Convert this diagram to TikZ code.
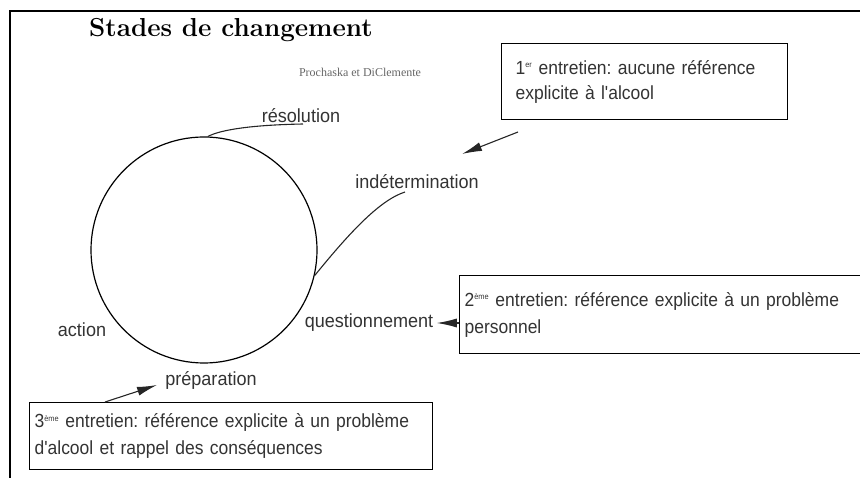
\documentclass[tikz,border=0pt]{standalone}
\usepackage{fontspec}
\setsansfont{Liberation Sans}[FakeStretch=0.95]
\newfontfamily\authorfont{Liberation Serif}
\newfontfamily\notefont{Liberation Sans}[FakeStretch=0.92]
\usetikzlibrary{arrows.meta}
\tikzset{>={Latex[length=20pt,width=9pt]}}
\tikzset{
  stage/.style={font=\sffamily\fontsize{19}{27}\selectfont, text=black!80},
  remark/.style={draw, line width=1.2pt, text=black!80, align=left, anchor=north west,
    font=\notefont\fontsize{19}{27}\selectfont\frenchspacing,
    inner xsep=5pt, inner ysep=0pt},
  leader/.style={line width=1.1pt, black!85},
}
\newcommand{\rang}[1]{\textsuperscript{\fontsize{8}{8}\selectfont #1}}

\begin{document}
\begin{tikzpicture}[x=1pt,y=-1pt]
  % page and frame
  \clip (0,0) rectangle (860,478);
  \draw[line width=1.2pt] (10,478) -- (10,11) -- (860,11);

  % title and source
  \node (title) at (231,30) {\bfseries\fontsize{26}{30}\selectfont Stades de changement};
  \node[font=\authorfont\fontsize{12}{14}\selectfont, text=black!60] (author) at (360,72) {Prochaska et DiClemente};

  % the cycle
  \node[circle, draw, line width=1.2pt, minimum size=226pt, inner sep=0pt] (cycle) at (204,250) {};

  % stage labels
  \node[stage] (res) at (301,116) {résolution};
  \node[stage] (indet) at (417,182) {indétermination};
  \node[stage] (quest) at (369,323) {questionnement};
  \node[stage] (action) at (82,330) {action};
  \node[stage] (prep) at (211,380) {préparation};

  % leader lines to the cycle
  \coordinate (resfoot) at (303,124);
  \coordinate (indfoot) at (405,192);
  \draw[leader] (cycle.88) .. controls (220,130) and (250,125) .. (resfoot);
  \draw[leader] (cycle.-13) .. controls (350,232) and (380,200) .. (indfoot);

  % the interviews
  \node[remark, inner xsep=14pt, text width=258pt, minimum height=76pt,
    font=\notefont\fontsize{19}{25}\selectfont\frenchspacing] (note1) at (501,43)
    {1\rang{er} entretien: aucune référence\\explicite à l'alcool};
  \node[remark, text width=440pt, minimum height=78pt] (note2) at (459,275)
    {2\rang{ème} entretien: référence explicite à un problème\\personnel};
  \node[remark, text width=393pt, minimum height=67pt] (note3) at (29,402)
    {3\rang{ème} entretien: référence explicite à un problème\\d'alcool et rappel des conséquences};

  % arrows
  \coordinate (tail1) at (518,132);
  \coordinate (tip1) at (462,154);
  \coordinate (tail3) at (105,402);
  \coordinate (tip3) at (157,385);
  \draw[->, leader] (tail1) -- (tip1);
  \draw[->, leader] (note2.west |- quest.east) -- (quest.east);
  \draw[->, leader] (tail3) -- (tip3);
\end{tikzpicture}
\end{document}
